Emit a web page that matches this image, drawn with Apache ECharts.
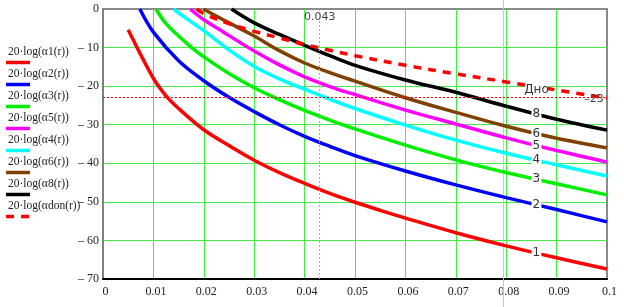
<!DOCTYPE html>
<html>
<head>
<meta charset="utf-8">
<script src="https://cdn.jsdelivr.net/npm/echarts@6/dist/echarts.min.js"></script>
<style>
  html, body { margin: 0; background: #fff; }
  #chart { width: 624px; height: 307px; }
</style>
</head>
<body>
<div id="chart"></div>
<script>
// [r, dB] pairs
const alpha1 = [[0.005, -5.4], [0.01, -18], [0.0125, -22.5], [0.015, -25.8], [0.02, -31.3], [0.025, -35.4], [0.03, -39.2], [0.035, -42.4], [0.04, -45.2], [0.045, -47.8], [0.05, -50.1], [0.055, -52.2], [0.06, -54.2], [0.07, -58], [0.08, -61.4], [0.09, -64.5], [0.1, -67.4]]
const alpha2 = [[0.0073, 0], [0.01, -6], [0.015, -13.4], [0.02, -18.6], [0.025, -22.9], [0.03, -26.6], [0.035, -30], [0.04, -33], [0.045, -35.6], [0.05, -38], [0.06, -42], [0.07, -45.6], [0.08, -48.9], [0.09, -52], [0.1, -55.2]]
const alpha3 = [[0.0105, 0], [0.0125, -3.8], [0.015, -7], [0.0176, -10], [0.02, -12.4], [0.025, -16.7], [0.03, -20.4], [0.035, -23.5], [0.04, -26.3], [0.045, -28.8], [0.05, -31.1], [0.06, -35.3], [0.07, -39.1], [0.08, -42.4], [0.09, -45.3], [0.1, -48.2]]
const alpha5 = [[0.0173, 0], [0.02, -2.8], [0.0232, -5.4], [0.025, -6.9], [0.03, -10.9], [0.035, -14.5], [0.04, -17.6], [0.045, -20.1], [0.05, -22.2], [0.06, -26.2], [0.07, -29.8], [0.08, -33.4], [0.09, -36.7], [0.1, -39.7]]
const alpha4 = [[0.014, 0], [0.017, -2.9], [0.02, -5.6], [0.025, -10.6], [0.03, -14.9], [0.035, -18.1], [0.04, -20.8], [0.045, -23.4], [0.05, -25.8], [0.06, -30.1], [0.07, -34], [0.08, -37.4], [0.09, -40.4], [0.1, -43.3]]
const alpha6 = [[0.0199, 0], [0.025, -3.6], [0.03, -7], [0.035, -10.8], [0.04, -14], [0.045, -16.5], [0.05, -18.7], [0.06, -23], [0.07, -26.8], [0.08, -30.4], [0.09, -33.5], [0.1, -36]]
const alpha8 = [[0.0255, 0], [0.03, -3.6], [0.035, -6.6], [0.04, -9.4], [0.045, -12.1], [0.05, -14.6], [0.06, -18.4], [0.07, -21.6], [0.08, -25.2], [0.09, -28.6], [0.1, -31.4]]
const alphaDon = [[0.0186, 0], [0.02, -1.2], [0.025, -3.8], [0.03, -5.8], [0.035, -7.5], [0.04, -9.2], [0.045, -10.7], [0.05, -12.1], [0.06, -14.6], [0.07, -16.8], [0.08, -18.9], [0.09, -21], [0.1, -23.1]]

const seriesNames = ['20·log(α1(r))', '20·log(α2(r))', '20·log(α3(r))', '20·log(α5(r))', '20·log(α4(r))', '20·log(α6(r))', '20·log(α8(r))', '20·log(αdon(r))']
const curveLabels = ['1', '2', '3', '5', '4', '6', '8', 'Дно']
const colors = ['#ff0000', '#0000ff', '#00ee00', '#ff00ff', '#00ffff', '#804000', '#000000', '#ff0000']
const curves = [alpha1, alpha2, alpha3, alpha5, alpha4, alpha6, alpha8, alphaDon]

const labelX = 0.086
const markerX = 0.043
const markerY = -23
const cursorX = 0.0794

function interp(pts, x) {
  for (let i = 1; i < pts.length; i++) {
    if (x <= pts[i][0]) {
      const [x0, y0] = pts[i - 1], [x1, y1] = pts[i]
      return y0 + (y1 - y0) * (x - x0) / (x1 - x0)
    }
  }
  return pts[pts.length - 1][1]
}

const serif = 'Liberation Serif'
const sans = 'DejaVu Sans'

const series = curves.map((data, i) => {
  const isDon = i === 7
  const s = {
    name: seriesNames[i],
    type: 'line',
    data,
    symbol: 'none',
    smooth: 0.35,
    lineStyle: { color: colors[i], width: 3.5, type: isDon ? [8, 7] : 'solid' },
    z: isDon ? 4 : 3,
    markPoint: {
      symbol: 'rect',
      symbolSize: isDon ? [23, 12] : [10, 13],
      symbolOffset: isDon ? [0, 3] : [0, 0],
      itemStyle: { color: '#fff' },
      label: { show: true, color: '#333', fontFamily: sans, fontSize: 12, formatter: curveLabels[i] },
      data: [{ coord: [labelX, interp(data, labelX)] }],
      animation: false
    }
  }
  if (isDon) {
    s.markLine = {
      silent: true,
      symbol: 'none',
      precision: 4,
      label: { show: false },
      animation: false,
      data: [
        { yAxis: markerY, lineStyle: { color: '#ff0000', width: 1, type: [2, 2] } },
        { xAxis: markerX, lineStyle: { color: '#ff8a8a', width: 1, type: [2, 2] } }
      ]
    }
  }
  return s
})

// marker captions
series.push({
  type: 'scatter',
  data: [],
  markPoint: {
    symbol: 'rect',
    symbolSize: 0,
    animation: false,
    label: { show: true, color: '#444', fontFamily: sans, fontSize: 11 },
    data: [
      { coord: [markerX, 0], label: { formatter: String(markerX), offset: [0, 8] } },
      { coord: [0.0974, markerY], label: { formatter: '–' + Math.abs(markerY), offset: [0, 1] } }
    ]
  }
})

const chart = echarts.init(document.getElementById('chart'))
chart.setOption({
  animation: false,
  grid: { left: 103, right: 17, top: 9, bottom: 28, show: true, borderColor: '#8a8a8a', borderWidth: 2 },
  xAxis: {
    type: 'value',
    min: 0,
    max: 0.1,
    interval: 0.01,
    axisLine: { show: true, onZero: false, lineStyle: { color: '#000', width: 2 } },
    axisTick: { show: false },
    splitLine: { show: true, showMinLine: false, showMaxLine: false, lineStyle: { color: '#44ee44', width: 1 } },
    axisLabel: {
      color: '#222', fontFamily: serif, fontSize: 12, margin: 7, padding: [0, 0, 0, 5],
      formatter: v => String(+v.toFixed(2))
    }
  },
  yAxis: {
    type: 'value',
    min: -70,
    max: 0,
    interval: 10,
    axisLine: { show: true, onZero: false, lineStyle: { color: '#808080', width: 2 } },
    axisTick: { show: false },
    splitLine: { show: true, showMinLine: false, showMaxLine: false, lineStyle: { color: '#44ee44', width: 1 } },
    axisLabel: {
      color: '#222', fontFamily: serif, fontSize: 12, margin: 4,
      formatter: v => v === 0 ? '0' : '– ' + Math.abs(v)
    }
  },
  series
})

// legend (text above a line sample, Mathcad style) and trace cursor
const graphic = []
seriesNames.forEach((name, i) => {
  const ty = 52.5 + i * 22
  graphic.push({
    type: 'text', left: 8, top: ty - 7,
    style: { text: name, fill: '#222', font: '11.5px "' + serif + '"' }
  })
  graphic.push({
    type: 'line', shape: { x1: 6, y1: ty + 10, x2: 30, y2: ty + 10 },
    style: { stroke: colors[i], lineWidth: 3.5, lineDash: i === 7 ? [8, 7] : null }
  })
})
const cx = Math.round(chart.convertToPixel({ xAxisIndex: 0 }, cursorX)) + 0.5
graphic.push({ type: 'line', z: 1, shape: { x1: cx, y1: 0, x2: cx, y2: 307 }, style: { stroke: '#c8c8c8', lineWidth: 1 } })
chart.setOption({ graphic })
</script>
</body>
</html>
